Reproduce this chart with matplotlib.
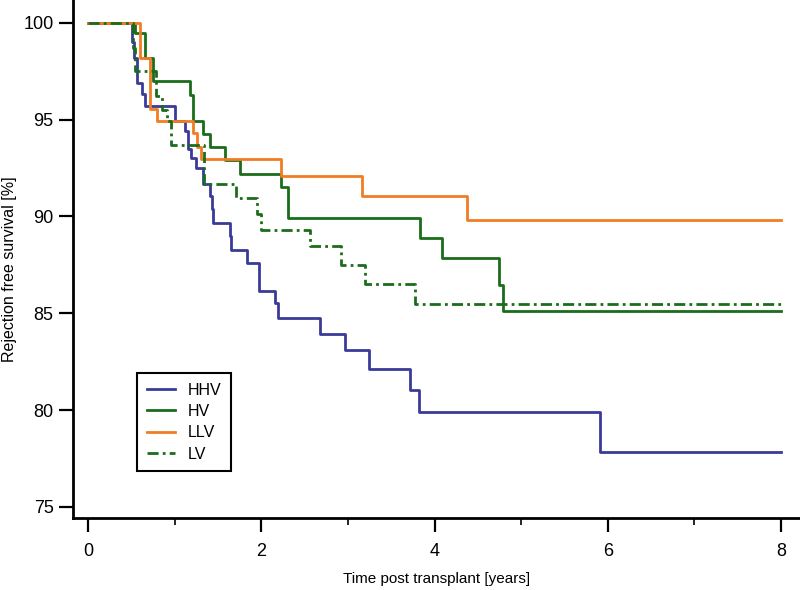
import matplotlib
matplotlib.use("Agg")
import matplotlib.pyplot as plt
from matplotlib import font_manager
from matplotlib.ticker import MultipleLocator

# step times (years) and survival (%) after each step
hhv_t = [0, 0.51, 0.53, 0.56, 0.62, 0.66, 1.00, 1.12, 1.155, 1.19, 1.24, 1.33, 1.405,
         1.425, 1.44, 1.64, 1.65, 1.83, 1.97, 2.16, 2.19, 2.68, 2.97, 3.245, 3.71,
         3.82, 5.91, 8.0]
hhv_s = [100, 99.0, 98.2, 96.9, 96.3, 95.7, 94.9, 94.4, 93.5, 93.0, 92.5, 91.65, 91.05,
         90.37, 89.65, 89.0, 88.28, 87.6, 86.17, 85.54, 84.75, 83.94, 83.09, 82.1, 81.03,
         79.92, 77.86, 77.86]

hv_t = [0, 0.54, 0.66, 0.75, 1.17, 1.21, 1.33, 1.405, 1.58, 1.75, 2.23, 2.31, 3.83,
        4.08, 4.74, 4.79, 8.0]
hv_s = [100, 99.45, 98.2, 96.97, 96.25, 94.9, 94.25, 93.6, 92.9, 92.2, 91.5, 89.94, 88.9,
        87.83, 86.46, 85.09, 85.09]

llv_t = [0, 0.60, 0.71, 0.79, 1.21, 1.26, 1.30, 2.23, 3.16, 4.37, 8.0]
llv_s = [100, 98.17, 95.55, 94.9, 94.3, 93.6, 92.94, 92.08, 91.05, 89.8, 89.8]

lv_t = [0, 0.52, 0.54, 0.78, 0.85, 0.91, 0.96, 1.34, 1.71, 1.95, 2.0, 2.56, 2.92, 3.2,
        3.77, 8.0]
lv_s = [100, 98.7, 97.5, 96.2, 95.5, 94.9, 93.7, 91.65, 90.93, 90.1, 89.3, 88.45, 87.5,
        86.53, 85.46, 85.46]

names = [f.name for f in font_manager.fontManager.ttflist]
fam = ["Liberation Sans Narrow", "DejaVu Sans"] if "Liberation Sans Narrow" in names \
    else ["Liberation Sans", "DejaVu Sans"]
plt.rcParams["font.family"] = fam

fig = plt.figure(figsize=(8, 5.9), dpi=100)
ax = fig.add_axes([73 / 800, 1 - 518 / 590, 727 / 800, 518 / 590])

blue = "#3a3a98"
green = "#1b6d1b"
orange = "#f27c22"

ax.step(hhv_t, hhv_s, where="post", color=blue, lw=2, label="HHV")
ax.step(hv_t, hv_s, where="post", color=green, lw=2, label="HV")
ax.step(llv_t, llv_s, where="post", color=orange, lw=2, label="LLV")
ax.step(lv_t, lv_s, where="post", color=green, lw=2, dashes=[4, 1.5, 1, 1.5], label="LV")

ax.set_xlim(-0.177, 8.22)
ax.set_ylim(74.43, 101.17)

for side in ["top", "right"]:
    ax.spines[side].set_visible(False)
for side in ["left", "bottom"]:
    ax.spines[side].set_linewidth(2)

ax.set_yticks([75, 80, 85, 90, 95, 100])
ax.set_xticks([0, 2, 4, 6, 8])
ax.xaxis.set_minor_locator(MultipleLocator(1))
ax.tick_params(axis="both", which="major", direction="out", width=1.6, length=10,
               labelsize=13)
ax.tick_params(axis="y", pad=4)
ax.tick_params(axis="x", pad=8)
ax.tick_params(axis="x", which="minor", direction="out", width=1.2, length=5)

ax.set_xlabel("Time post transplant [years]", fontsize=11, labelpad=9)
ax.set_ylabel("Rejection free survival [%]", fontsize=11.5)
ax.yaxis.set_label_coords(-56 / 727, 0.48)

leg = ax.legend(loc="upper left", bbox_to_anchor=(0.088, 0.28), borderaxespad=0,
                fontsize=11.5, handlelength=1.8, fancybox=False, framealpha=1,
                edgecolor="black", labelspacing=0.4, borderpad=0.6,
                handletextpad=0.8)
leg.get_frame().set_linewidth(1.5)
for line in leg.get_lines():
    line.set_linewidth(2)

fig.savefig("out.png", dpi=100)
